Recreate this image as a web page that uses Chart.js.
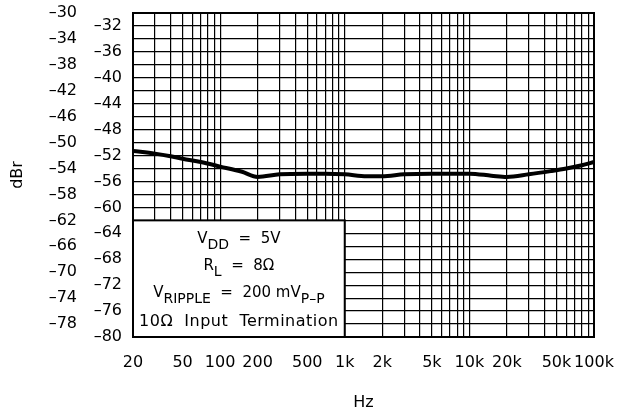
<!DOCTYPE html>
<html>
<head>
<meta charset="utf-8">
<script src="https://cdn.jsdelivr.net/npm/chart.js@4/dist/chart.umd.min.js"></script>
<style>
  html, body { margin: 0; padding: 0; background: #fff; }
  #wrap { width: 621px; height: 413px; }
</style>
</head>
<body>
<div id="wrap"><canvas id="myChart" width="621" height="413"></canvas></div>
<script>
const freq = [20, 30, 40, 50, 70, 100, 150, 200, 300, 500, 700, 1000, 1500, 2000, 3000, 5000, 10000, 15000, 20000, 30000, 45000, 60000, 80000, 100000];
const dbr = [-51.3, -51.7, -52.1, -52.5, -53.0, -53.7, -54.5, -55.3, -54.9, -54.8, -54.8, -54.9, -55.2, -55.2, -54.9, -54.8, -54.8, -55.1, -55.3, -54.9, -54.4, -54.0, -53.5, -53.0];

// axis ticks
const xGridTicks = [20, 30, 40, 50, 60, 70, 80, 90, 100, 200, 300, 400, 500, 600, 700, 800, 900,
  1000, 2000, 3000, 4000, 5000, 6000, 7000, 8000, 9000, 10000, 20000, 30000, 40000, 50000,
  60000, 70000, 80000, 90000, 100000];
const xTickValues = [20, 50, 100, 200, 500, 1000, 2000, 5000, 10000, 20000, 50000, 100000];
const xTickLabels = ['20', '50', '100', '200', '500', '1k', '2k', '5k', '10k', '20k', '50k', '100k'];
const yOuterTicks = [-30, -34, -38, -42, -46, -50, -54, -58, -62, -66, -70, -74, -78];
const yInnerTicks = [-32, -36, -40, -44, -48, -52, -56, -60, -64, -68, -72, -76, -80];

// inset note
const noteRange = { x: [20, 1000], y: [-80, -62] };
const noteLines = [
  [['V', 0], ['DD', 1], ['  =  5V', 0]],
  [['R', 0], ['L', 1], ['  =  8\u03A9', 0]],
  [['V', 0], ['RIPPLE', 1], ['  =  200 mV', 0], ['P\u2013P', 1]],
  [['10\u03A9  Input  Termination', 0]]
];

const FONT = 'DejaVu Sans';
Chart.defaults.font.family = FONT;
Chart.defaults.font.size = 16;
Chart.defaults.color = '#000';

const fmtDb = (v) => (v < 0 ? '\u2013' : '') + Math.abs(v);

const notePlugin = {
  id: 'note',
  beforeDatasetsDraw(chart) {
    const { ctx, scales: { x, y2 } } = chart;
    const l = x.getPixelForValue(noteRange.x[0]);
    const r = x.getPixelForValue(noteRange.x[1]);
    const t = y2.getPixelForValue(noteRange.y[1]);
    const b = y2.getPixelForValue(noteRange.y[0]);
    ctx.save();
    ctx.fillStyle = '#fff';
    ctx.fillRect(l, t, r - l, b - t);
    ctx.strokeStyle = '#000';
    ctx.lineWidth = 2;
    ctx.strokeRect(l, t, r - l, b - t);
    ctx.fillStyle = '#000';
    ctx.textBaseline = 'middle';
    const cx = (l + r) / 2;
    const offs = [18.5, 45.5, 72.5, 101.5];
    noteLines.forEach((line, i) => {
      const last = i === noteLines.length - 1;
      ctx.letterSpacing = last ? '0.5px' : '0px';
      const main = last ? 16 : 15;
      let w = 0;
      line.forEach(([s, sub]) => {
        ctx.font = (sub ? 14 : main) + 'px ' + FONT;
        w += ctx.measureText(s).width;
      });
      let px = cx - w / 2;
      const py = t + offs[i];
      line.forEach(([s, sub]) => {
        ctx.font = (sub ? 14 : main) + 'px ' + FONT;
        ctx.fillText(s, px, py + (sub ? 6 : 0));
        px += ctx.measureText(s).width;
      });
    });
    ctx.restore();
  },
  afterDraw(chart) {
    const { ctx, chartArea: a } = chart;
    ctx.save();
    ctx.strokeStyle = '#000';
    ctx.lineWidth = 2;
    ctx.strokeRect(a.left, a.top, a.right - a.left, a.bottom - a.top);
    ctx.restore();
  }
};

const noEdgeY = (w) => (s) => { s.width = w; s.paddingTop = 0; s.paddingBottom = 0; };

const ctx = document.getElementById('myChart').getContext('2d');
const myChart = new Chart(ctx, {
  type: 'line',
  data: {
    datasets: [{
      data: freq.map((f, i) => ({ x: f, y: dbr[i] })),
      borderColor: '#000',
      borderWidth: 4,
      pointRadius: 0,
      cubicInterpolationMode: 'monotone',
      fill: false
    }]
  },
  options: {
    responsive: false,
    animation: false,
    layout: { padding: { top: 13, right: 27, left: 0, bottom: 0 } },
    plugins: { legend: { display: false }, tooltip: { enabled: false } },
    scales: {
      x: {
        type: 'logarithmic',
        min: 20,
        max: 100000,
        afterBuildTicks: (s) => { s.ticks = xGridTicks.map(v => ({ value: v })); },
        afterFit: (s) => { s.height = 76; s.paddingLeft = 0; s.paddingRight = 0; },
        ticks: {
          autoSkip: false,
          maxRotation: 0,
          padding: 16,
          callback: (v) => {
            const i = xTickValues.indexOf(v);
            return i >= 0 ? xTickLabels[i] : '';
          }
        },
        grid: { color: '#000', lineWidth: 1.2, drawTicks: false },
        border: { display: false },
        title: { display: true, text: 'Hz', padding: { top: 0, bottom: 1 } }
      },
      y: {
        position: 'left',
        weight: 2,
        min: -80,
        max: -30,
        afterBuildTicks: (s) => { s.ticks = yOuterTicks.map(v => ({ value: v })); },
        afterFit: noEdgeY(80),
        ticks: { padding: 3, callback: fmtDb },
        grid: { color: '#000', lineWidth: 1.2, drawTicks: false },
        border: { display: false },
        title: { display: true, text: 'dBr', padding: { top: 8, bottom: 0 } }
      },
      y2: {
        position: 'left',
        weight: 1,
        min: -80,
        max: -30,
        afterBuildTicks: (s) => { s.ticks = yInnerTicks.map(v => ({ value: v })); },
        afterFit: noEdgeY(53),
        ticks: { padding: 11, callback: fmtDb },
        grid: { color: '#000', lineWidth: 1.2, drawTicks: false },
        border: { display: false }
      }
    }
  },
  plugins: [notePlugin]
});
</script>
</body>
</html>
